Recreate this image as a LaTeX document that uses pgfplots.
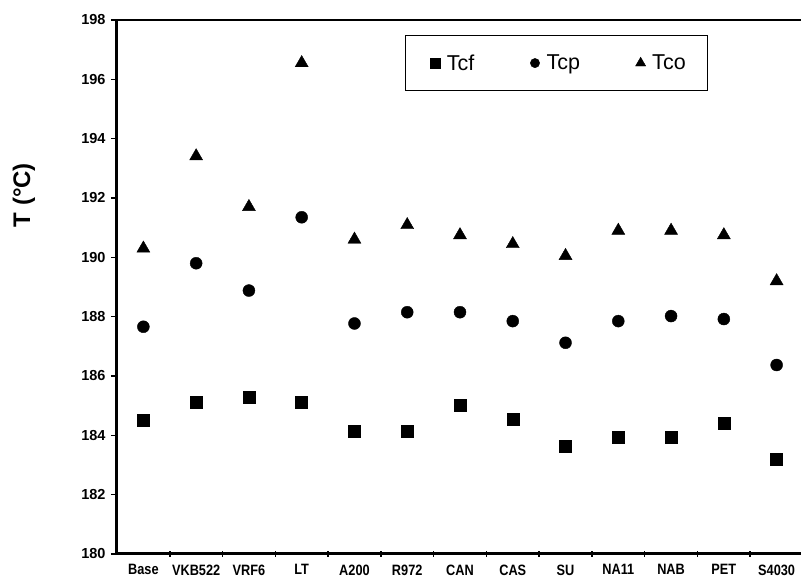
\documentclass[border=0pt]{standalone}
\usepackage{fontspec}
\setmainfont{Liberation Sans}
\newfontfamily\narrowfont[FakeStretch=0.85]{Liberation Sans}
\usepackage{pgfplots}
\pgfplotsset{compat=1.18}
\begin{document}
\begin{tikzpicture}
\begin{axis}[
  name=ax,
  scale only axis,
  width=686pt, height=534pt,
  xmin=-0.5, xmax=12.5,
  ymin=180, ymax=198,
  ytick={180,182,...,198},
  xtick={0,...,12},
  xticklabels={Base,VKB522,VRF6,LT,A200,R972,CAN,CAS,SU,NA11,NAB,PET,S4030},
  minor xtick={0.5,1.5,...,11.5},
  axis x line*=bottom,
  axis y line*=left,
  axis line style={line width=3pt, black},
  x tick style={draw=none},
  minor x tick style={draw=black, line width=1.5pt},
  minor tick length=6pt,
  tick align=center,
  y tick style={line width=1.5pt, black},
  ytick align=outside,
  major tick length=6pt,
  /pgf/number format/assume math mode=true,
  yticklabel style={font=\fontsize{14.5}{16}\selectfont\bfseries, xshift=-2pt},
  xticklabel style={font=\fontsize{15}{17}\selectfont\bfseries\narrowfont, yshift=-4pt},
  ylabel={T (°C)},
  ylabel style={font=\fontsize{24}{28}\selectfont\bfseries, at={(axis description cs:-0.1356,0.672)}, anchor=center},
  legend columns=3,
  legend style={at={(axis description cs:0.42,0.972)}, anchor=north west,
    draw=black, line width=1.2pt, font=\fontsize{21.5}{23}\selectfont,
    inner xsep=20pt, inner ysep=17pt, column sep=0pt,
    /tikz/every even column/.append style={column sep=49pt}},
  legend image code/.code={\path (0pt,0pt) (18pt,0pt); \draw[#1, line width=0.4pt, mark options={scale=0.78}] plot coordinates {(9pt,0pt)};},
]
\addplot[only marks, mark=square*, mark size=6pt, black] coordinates {
(0,184.5) (1,185.1) (2,185.3) (3,185.1) (4,184.15) (5,184.15) (6,185.0)
(7,184.55) (8,183.65) (9,183.95) (10,183.93) (11,184.4) (12,183.2)};
\addlegendentry{Tcf}
\addplot[only marks, mark=*, mark size=6pt, black] coordinates {
(0,187.66) (1,189.8) (2,188.88) (3,191.35) (4,187.77) (5,188.15) (6,188.15)
(7,187.85) (8,187.12) (9,187.85) (10,188.02) (11,187.92) (12,186.37)};
\addlegendentry{Tcp}
\addplot[only marks, mark=triangle*, mark size=7.5pt, black] coordinates {
(0,190.3) (1,193.41) (2,191.7) (3,196.55) (4,190.6) (5,191.09) (6,190.75)
(7,190.45) (8,190.05) (9,190.9) (10,190.9) (11,190.75) (12,189.2)};
\addlegendentry{Tco}
\draw[line width=3pt] (rel axis cs:0,1) -- (rel axis cs:1,1);
\end{axis}
\pgfresetboundingbox
\path (ax.south west) ++(-117pt,-32pt) rectangle ++(801pt,586pt);
\end{tikzpicture}
\end{document}
